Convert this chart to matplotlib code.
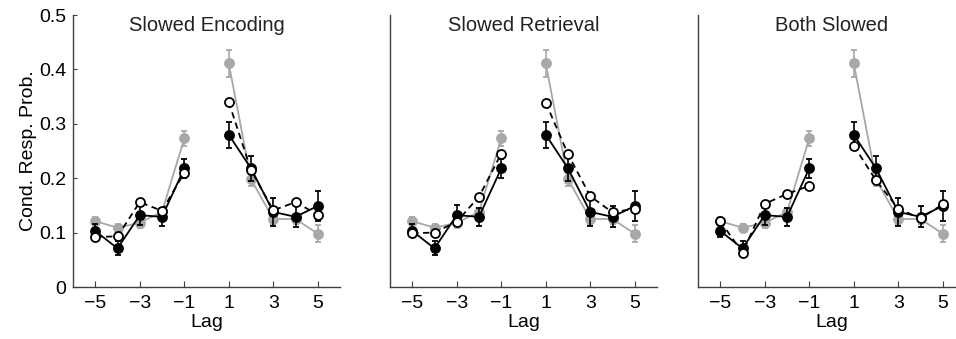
import matplotlib
matplotlib.use("Agg")
import matplotlib.pyplot as plt
import numpy as np

plt.rcParams["font.family"] = ["Liberation Sans", "DejaVu Sans"]

lags = [-5, -4, -3, -2, -1, 1, 2, 3, 4, 5]
titles = ["Slowed Encoding", "Slowed Retrieval", "Both Slowed"]

# observed data (gray) and comparison data (black), same in every panel
gray_vals = [0.121, 0.109, 0.118, 0.138, 0.273, 0.411, 0.198, 0.125, 0.125, 0.098]
gray_err = [0.008, 0.007, 0.010, 0.008, 0.014, 0.025, 0.012, 0.010, 0.010, 0.016]
black_vals = [0.103, 0.071, 0.132, 0.129, 0.218, 0.280, 0.218, 0.138, 0.129, 0.149]
black_err = [0.012, 0.013, 0.018, 0.017, 0.018, 0.024, 0.023, 0.025, 0.019, 0.027]

# model predictions (open circles), one list per panel
open_encoding = [0.092, 0.093, 0.156, 0.140, 0.210, 0.340, 0.215, 0.141, 0.156, 0.133]
open_retrieval = [0.099, 0.100, 0.120, 0.166, 0.245, 0.339, 0.244, 0.167, 0.137, 0.144]
open_both = [0.121, 0.063, 0.153, 0.171, 0.186, 0.260, 0.196, 0.144, 0.126, 0.152]
open_sets = [open_encoding, open_retrieval, open_both]

GRAY = "#a8a8a8"
AXC = "#404040"


def draw_series(ax, vals, err, color, mfc, ls, z):
    # lags -1 and 1 are not joined: draw each side separately
    x = np.array(lags)
    v = np.array(vals, dtype=float)
    e = None if err is None else np.array(err)
    for sl in (slice(0, 5), slice(5, 10)):
        ax.errorbar(x[sl], v[sl], yerr=None if e is None else e[sl], color=color,
                    ecolor=color, elinewidth=1.2, capsize=2, capthick=1.2,
                    linestyle=ls, linewidth=1.3, marker="o", markersize=6.5,
                    markerfacecolor=mfc, markeredgecolor=color, markeredgewidth=1.3,
                    zorder=z)


fig = plt.figure(figsize=(9.56, 3.39), dpi=100)
lefts = [73, 390, 698]
for k, left in enumerate(lefts):
    ax = fig.add_axes([left / 956, 1 - 287 / 339, 267 / 956, 272 / 339])
    draw_series(ax, gray_vals, gray_err, GRAY, GRAY, "-", 2)
    draw_series(ax, black_vals, black_err, "black", "black", "-", 3)
    draw_series(ax, open_sets[k], None, "black", "white", (0, (3.5, 2.5)), 4)
    ax.set_xlim(-6, 6)
    ax.set_ylim(0, 0.5)
    ax.set_xticks([-5, -3, -1, 1, 3, 5])
    ax.set_xticklabels(["\u22125", "\u22123", "\u22121", "1", "3", "5"])
    ax.set_xlabel("Lag", fontsize=14, labelpad=1)
    ax.text(0.5, 0.96, titles[k], transform=ax.transAxes, ha="center",
            va="center", fontsize=14.5, color="#222222")
    for s in ["top", "right"]:
        ax.spines[s].set_visible(False)
    for s in ["left", "bottom"]:
        ax.spines[s].set_color(AXC)
        ax.spines[s].set_linewidth(1.0)
    ax.tick_params(axis="x", direction="in", length=4, color=AXC, labelsize=14, pad=6)
    if k == 0:
        ax.set_yticks([0, 0.1, 0.2, 0.3, 0.4, 0.5])
        ax.set_yticklabels(["0", "0.1", "0.2", "0.3", "0.4", "0.5"])
        ax.tick_params(axis="y", direction="in", length=3, color=AXC, labelsize=14, pad=5)
        ax.set_ylabel("Cond. Resp. Prob.", fontsize=14, labelpad=1)
    else:
        ax.set_yticks([])

fig.savefig("out.png", dpi=100)
